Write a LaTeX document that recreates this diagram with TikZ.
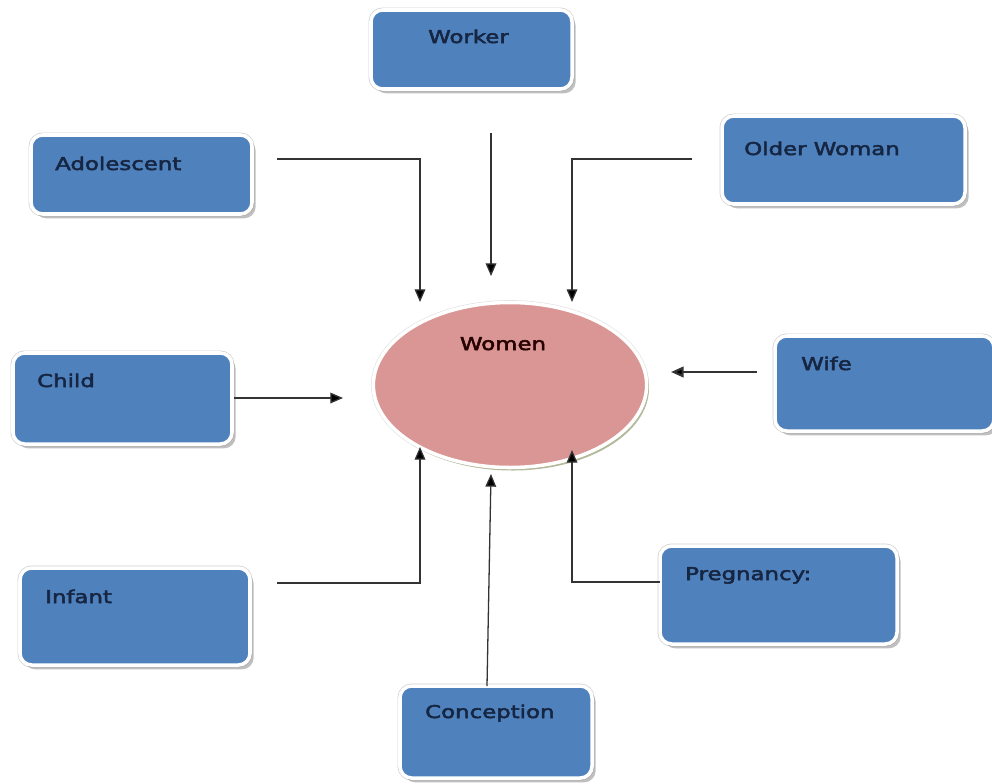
\documentclass[tikz,border=0pt]{standalone}
\usepackage{fontspec}
\setmainfont{DejaVu Sans}[FakeStretch=1.3, FakeBold=3]
\usetikzlibrary{arrows.meta,shapes.geometric,shadows,fit}
\definecolor{boxblue}{RGB}{79,129,189}
\definecolor{boxtext}{RGB}{22,38,66}
\definecolor{womenpink}{RGB}{217,150,148}
\definecolor{womenshade}{RGB}{160,170,130}

\begin{document}
\begin{tikzpicture}[x=0.03cm, y=-0.03cm,
		rolebox/.style={fill=boxblue, draw=white, line width=3pt, rounded corners=3.5mm, inner sep=0pt,
			preaction={draw=black!18, line width=4.2pt},
			drop shadow={shadow xshift=1.1mm, shadow yshift=-1.3mm, fill=black!45, opacity=0.55}},
		roletext/.style={text=boxtext, inner sep=0pt, anchor=base west, font=\fontsize{15}{18}\selectfont},
		feed/.style={line width=1.1pt, draw=black!80, -{Triangle[length=3.8mm, width=3.2mm, fill=black]}}]
			%%%%% START %%%%%
			
			\fill[white] (0, 0) rectangle (992, 783);
			\useasboundingbox (0, 0) rectangle (992, 783);
			
			% the eight boxes
			\node[rolebox, fit={(371, 10) (572, 89)}] (worker) {};
			\node[rolebox, fit={(31, 135) (252, 214)}] (adolescent) {};
			\node[rolebox, fit={(722, 116) (965, 204)}] (older) {};
			\node[rolebox, fit={(13, 353) (232, 444)}] (child) {};
			\node[rolebox, fit={(775, 336) (994, 431)}] (wife) {};
			\node[rolebox, fit={(20, 568) (250, 665)}] (infant) {};
			\node[rolebox, fit={(660, 546) (897, 644)}] (pregnancy) {};
			\node[rolebox, fit={(400, 686) (592, 778)}] (conception) {};
			
			\node[roletext] (workertext) at (428, 43) {Worker};
			\node[roletext] (adolescenttext) at (55, 170) {Adolescent};
			\node[roletext] (oldertext) at (744, 155) {Older Woman};
			\node[roletext] (childtext) at (37, 387) {Child};
			\node[roletext] (wifetext) at (801, 370) {Wife};
			\node[roletext] (infanttext) at (45, 603) {Infant};
			\node[roletext] (pregnancytext) at (685, 580) {Pregnancy:};
			\node[roletext] (conceptiontext) at (425, 718) {Conception};
			
			% the centre
			\node[ellipse, fill=womenpink, draw=white, line width=3pt, inner sep=0pt,
				minimum width=8.2cm, minimum height=4.95cm,
				preaction={draw=black!12, line width=4pt},
				drop shadow={shadow xshift=0.7mm, shadow yshift=-0.9mm, fill=womenshade, opacity=0.8}]
				(women) at (510, 385) {};
			\node[text=black!85!red, inner sep=0pt, anchor=base, font=\fontsize{15}{18}\selectfont]
				(womentext) at (503, 350) {Women};
			
			% free ends of the connectors
			\coordinate (adolescentout) at (277, 159);
			\coordinate (adolescentin) at (420, 302);
			\coordinate (workerout) at (491, 133);
			\coordinate (workerin) at (491, 276);
			\coordinate (olderout) at (692, 159);
			\coordinate (olderin) at (572, 302);
			\coordinate (childin) at (343, 398);
			\coordinate (wifeout) at (757, 372);
			\coordinate (wifein) at (671, 372);
			\coordinate (infantout) at (277, 583);
			\coordinate (infantin) at (420, 447);
			\coordinate (conceptionout) at (487, 686);
			\coordinate (conceptionin) at (491, 474);
			\coordinate (pregnancyout) at (660, 582);
			\coordinate (pregnancyin) at (572, 450);
			
			\draw[feed] (adolescentout) -| (adolescentin);
			\draw[feed] (workerout) -- (workerin);
			\draw[feed] (olderout) -| (olderin);
			\draw[feed] (child.east |- childin) -- (childin);
			\draw[feed, line width=1.8pt] (wifeout) -- (wifein);
			\draw[feed] (infantout) -| (infantin);
			\draw[feed] (conceptionout) -- (conceptionin);
			\draw[feed] (pregnancyout) -| (pregnancyin);
			
			%%%%% END %%%%%
		\end{tikzpicture}
\end{document}
